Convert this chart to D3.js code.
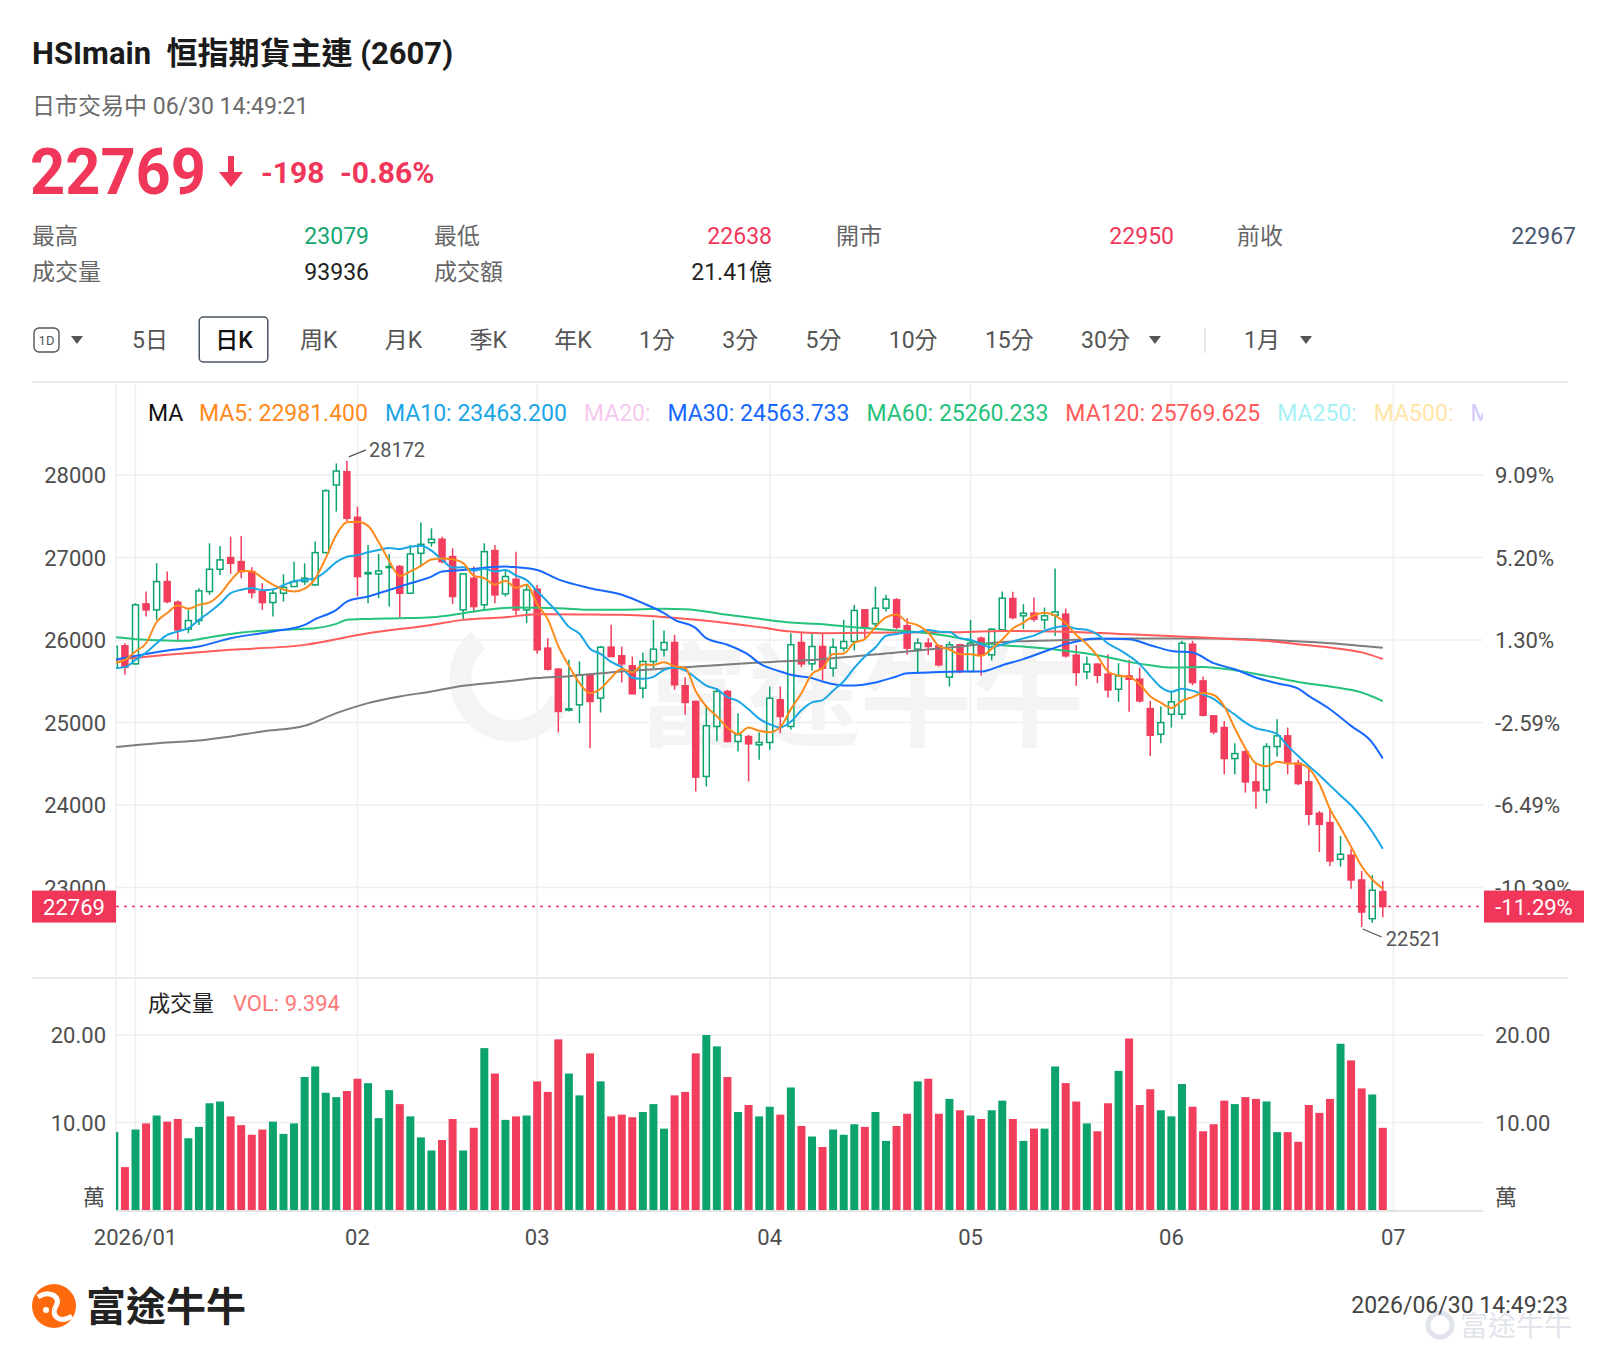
<!DOCTYPE html>
<html>
<head>
<meta charset="utf-8">
<script src="https://cdn.jsdelivr.net/npm/d3@7"></script>
<style>
body { margin: 0; background: #fff; }
svg { display: block; font-family: Roboto, "Noto Sans CJK TC", sans-serif; }
</style>
</head>
<body>
<svg id="svg"></svg>
<script>
// trading days shown (two 2025 sessions, then 2026)
var dates = ["12-30","12-31",
	"01-02","01-05","01-06","01-07","01-08","01-09","01-12","01-13","01-14","01-15","01-16","01-19","01-20","01-21","01-22","01-23","01-26","01-27","01-28","01-29","01-30",
	"02-02","02-03","02-04","02-05","02-06","02-09","02-10","02-11","02-12","02-13","02-16","02-20","02-23","02-24","02-25","02-26","02-27",
	"03-02","03-03","03-04","03-05","03-06","03-09","03-10","03-11","03-12","03-13","03-16","03-17","03-18","03-19","03-20","03-23","03-24","03-25","03-26","03-27","03-30","03-31",
	"04-01","04-02","04-08","04-09","04-10","04-13","04-14","04-15","04-16","04-17","04-20","04-21","04-22","04-23","04-24","04-27","04-28","04-29","04-30",
	"05-04","05-05","05-06","05-07","05-08","05-11","05-12","05-13","05-14","05-15","05-18","05-19","05-20","05-21","05-22","05-26","05-27","05-28","05-29",
	"06-01","06-02","06-03","06-04","06-05","06-08","06-09","06-10","06-11","06-12","06-15","06-16","06-17","06-18","06-22","06-23","06-24","06-25","06-26","06-29","06-30"];

var opens = [25659,25929,25711,26438,26365,26708,26458,26131,26236,26587,26857,26999,26950,26829,26587,26454,26567,26648,26708,26668,27059,27879,28040,
	27487,26801,26801,26882,26890,26567,27051,27180,27221,27011,26365,26749,26426,27084,26559,26736,26365,
	26615,25901,25646,25150,25214,25578,25295,25913,25808,25687,25416,25740,25881,25970,25445,25255,24346,24952,25376,24770,24830,24730,
	24758,25275,24952,25970,25711,25921,25659,25901,25982,26366,26196,26386,26487,26172,25889,25962,25929,25550,25942,
	25618,26022,25820,26123,26503,26293,26325,26244,26301,26313,25816,25614,25707,25585,25403,25565,25525,25169,24858,
	25100,25100,25949,25504,25080,24939,24563,24644,24280,24183,24708,24838,24506,24280,23900,23787,23342,23391,23091,22622,22950];

var highs = [25961,25961,26446,26587,26930,26829,26478,26365,26627,27172,27140,27253,27261,26882,26688,26607,26797,26950,26930,27193,27826,28141,28172,
	27616,27152,27043,27043,26910,27152,27423,27354,27253,27112,26809,26890,27172,27152,26849,27071,26668,
	26668,26022,25660,25760,25740,25590,25929,26184,25921,25800,25849,26245,26115,26063,25550,25265,25214,25416,25396,25113,24851,24879,
	25437,25437,26083,26083,26075,26075,26022,26245,26426,26376,26649,26548,26507,26265,26022,26022,25942,25982,25954,
	26245,26043,26144,26588,26584,26434,26515,26394,26867,26382,25937,25800,25719,25828,25719,25759,25666,25262,25193,
	25371,25990,25990,25557,25088,25019,24749,24668,24506,24749,25040,24939,24547,24433,23928,23948,23625,23463,23200,23148,23079];

var lows = [25638,25578,25701,26284,26244,26446,25981,26082,26183,26547,26789,26801,26749,26506,26365,26284,26466,26648,26668,26656,27051,27556,27435,
	26527,26446,26506,26405,26276,26567,26910,27132,26930,26438,26252,26333,26365,26446,26527,26304,26204,
	25832,25630,24880,25134,24992,24689,25121,25800,25485,25348,25295,25659,25800,25396,25093,24164,24225,24770,24760,24649,24285,24548,
	24669,24871,24911,25671,25630,25509,25558,25861,25873,26022,26164,26346,26131,25820,25598,25820,25679,25437,25598,
	25610,25566,25752,26115,26252,26131,26220,26131,26050,25787,25444,25525,25476,25302,25250,25129,25242,24595,24749,
	24939,25040,25452,25072,24858,24373,24373,24150,23956,24021,24587,24373,24239,23754,23431,23261,23253,22986,22521,22574,22638];

var closes = [25921,25671,26426,26365,26708,26466,26123,26236,26595,26857,26971,26930,26829,26575,26454,26567,26640,26708,26749,27059,27810,28048,27475,
	26769,26817,26837,26890,26567,27043,27160,27221,26950,26527,26801,26405,27071,26547,26769,26365,26607,
	25881,25646,25134,25166,25578,25255,25913,25800,25711,25348,25740,25889,25970,25457,25243,24338,24960,25376,24770,24851,24742,24758,
	25295,25073,25942,25711,25921,25659,25913,25982,26358,26144,26386,26495,26156,25901,25962,25921,25699,25942,25618,
	25962,25820,26131,26507,26272,26325,26252,26293,26341,25808,25606,25707,25573,25395,25565,25525,25262,24846,24999,
	25250,25961,25484,25088,24886,24563,24623,24280,24171,24708,24838,24522,24260,23888,23766,23322,23403,23091,22703,22967,22769];

// volume, in 萬 contracts
var volumes = [8.9,4.9,9.2,9.9,10.8,10.1,10.4,8.2,9.5,12.2,12.4,10.7,9.7,8.6,9.2,10.1,8.7,9.9,15.2,16.4,13.4,12.9,13.6,
	15.0,14.5,10.5,13.7,12.1,10.7,8.3,6.8,8.0,10.4,6.8,9.4,18.5,15.6,10.3,10.7,10.8,
	14.7,13.5,19.5,15.6,13.1,17.9,14.7,10.7,10.9,10.6,11.2,12.1,9.3,13.1,13.5,17.9,20.0,18.7,15.2,11.2,12.0,10.7,
	11.8,10.9,14.0,9.6,8.4,7.2,9.2,8.6,9.8,9.5,11.2,7.9,9.6,11.0,14.7,15.0,11.0,12.7,11.4,
	10.8,10.4,11.4,12.5,10.4,7.9,9.3,9.3,16.4,14.5,12.4,9.9,9.0,12.2,15.9,19.6,12.0,13.8,11.4,
	10.7,14.4,11.8,9.0,9.8,12.5,12.1,12.9,12.7,12.4,8.9,8.9,7.8,12.0,11.1,12.7,19.0,17.1,13.9,13.2,9.394];

// MA5 / MA10 values of the first sessions (history before the window)
var ma5Head = [25719, 25759, 25860, 25961];
var ma10Head = [25659, 25671, 25759, 25848, 25961, 26062, 26103, 26143, 26244];

// longer averages
var ma30 = [["12-30",25759],["01-07",25873],["01-12",25921],["01-15",26022],["01-21",26103],["01-26",26184],["01-27",26252],["01-29",26365],["01-30",26466],
	["02-03",26527],["02-05",26607],["02-09",26688],["02-11",26769],["02-12",26829],["02-16",26849],["02-25",26890],["02-26",26882],
	["03-02",26849],["03-04",26735],["03-09",26628],["03-12",26548],["03-16",26447],["03-18",26325],["03-19",26245],["03-23",26144],["03-24",26022],["03-26",25942],["03-30",25820],["03-31",25719],
	["04-02",25618],["04-08",25578],["04-10",25538],["04-13",25497],["04-15",25449],["04-16",25449],["04-20",25485],["04-22",25558],["04-23",25598],["04-27",25606],["04-30",25618],
	["05-05",25618],["05-06",25647],["05-07",25694],["05-11",25768],["05-13",25861],["05-15",25950],["05-20",26018],["05-26",26010],["05-28",25937],
	["06-01",25868],["06-03",25848],["06-05",25719],["06-09",25646],["06-11",25545],["06-15",25476],["06-17",25411],["06-18",25323],["06-23",25161],["06-25",24959],["06-29",24757],["06-30",24564]];

var ma60 = [["12-30",26034],["01-02",26010],["01-07",25994],["01-09",25990],["01-12",26010],["01-15",26074],["01-20",26111],["01-26",26135],["01-27",26143],["01-29",26196],["01-30",26244],
	["02-03",26256],["02-06",26264],["02-11",26276],["02-16",26325],["02-23",26365],["02-26",26393],
	["03-04",26386],["03-09",26366],["03-12",26366],["03-18",26378],["03-20",26374],["03-26",26305],["03-31",26257],
	["04-08",26212],["04-13",26192],["04-16",26156],["04-22",26115],["04-27",26083],["04-30",26022],
	["05-05",25962],["05-07",25937],["05-12",25909],["05-15",25870],["05-20",25816],["05-26",25735],["05-28",25694],
	["06-01",25666],["06-04",25674],["06-09",25634],["06-12",25565],["06-17",25492],["06-23",25436],["06-26",25363],["06-30",25260]];

var ma120 = [["12-30",25759],["01-07",25820],["01-15",25881],["01-26",25941],["02-03",26082],["02-11",26183],["02-16",26244],["02-25",26276],
	["03-02",26313],["03-06",26310],["03-12",26305],["03-23",26245],["03-31",26156],["04-08",26103],["04-13",26083],["04-22",26091],["04-30",26095],
	["05-07",26110],["05-15",26099],["05-26",26070],["06-04",26030],["06-09",26010],["06-12",25990],["06-17",25949],["06-23",25908],["06-26",25850],["06-30",25770]];

var ma250 = [["12-30",24702],["01-07",24758],["01-12",24782],["01-15",24831],["01-20",24891],["01-26",24960],["01-29",25113],
	["02-03",25235],["02-06",25315],["02-11",25376],["02-16",25445],["02-25",25497],["03-02",25538],["03-05",25562],["03-12",25618],["03-23",25679],["03-31",25727],
	["04-13",25768],["04-22",25849],["04-30",25921],["05-07",25975],["05-15",26000],["05-26",26018],["06-04",26018],["06-12",26002],["06-23",25961],["06-30",25905]];

var priceTicks = [23000, 24000, 25000, 26000, 27000, 28000];
var pctTicks = ["-10.39%", "-6.49%", "-2.59%", "1.30%", "5.20%", "9.09%"];
var volTicks = [10, 20];
var months = [["2026/01","01-02"],["02","02-02"],["03","03-02"],["04","04-01"],["05","05-04"],["06","06-01"],["07","07-02"]];

var legendNames = ["MA5","MA10","MA20","MA30","MA60","MA120","MA250","MA500","MA"];
var legendValues = ["22981.400","23463.200","","24563.733","25260.233","25769.625","","",""];

var statNames = ["最高","最低","開市","前收","成交量","成交額"];
var statValues = ["23079","22638","22950","22967","93936","21.41億"];
var tabs = ["5日","日K","周K","月K","季K","年K","1分","3分","5分","10分","15分","30分"];

var lastPrice = 22769, lastChange = "-198", lastPct = "-0.86%", lastPctAxis = "-11.29%";
var volNow = "9.394";

// ---------------------------------------------------------------
var width = 1600, height = 1358;
var svg = d3.select("#svg").attr("width", width).attr("height", height);

var upColor = "#0ca46c", downColor = "#f23d5c", priceRed = "#f0375a";
var gridColor = "#efefef", axisText = "#4d4d4d";
var L = 116, R = 1483, plotTop = 384, plotBottom = 976;

var x = d3.scaleLinear().domain([2, 120]).range([135.5, 1382.8]);
var y = d3.scaleLinear().domain([23000, 28000]).range([887.5, 475]);
var yv = d3.scaleLinear().domain([0, 20]).range([1210, 1035]);

function idxOf(d) { var i = dates.indexOf(d); return i < 0 ? dates.length : i; }
function isUp(i) { return closes[i] >= opens[i]; }

// ---------- header ----------
svg.append("text").attr("x", 32).attr("y", 64)
	.attr("font-size", 31).attr("font-weight", 700).attr("fill", "#1b1b1b")
	.style("white-space", "pre").text("HSImain  恒指期貨主連 (2607)");

svg.append("text").attr("x", 32).attr("y", 114)
	.attr("font-size", 23).attr("fill", "#6b6b6b")
	.text("日市交易中 06/30 14:49:21");

svg.append("text").attr("x", 30).attr("y", 194)
	.attr("font-size", 65).attr("font-weight", 700).attr("fill", priceRed)
	.attr("textLength", 176).attr("lengthAdjust", "spacingAndGlyphs")
	.text(lastPrice);

svg.append("path")
	.attr("d", "M228,156 L234,156 L234,172 L243,172 L231,187 L219,172 L228,172 Z")
	.attr("fill", priceRed);

svg.append("text").attr("x", 261).attr("y", 183)
	.attr("font-size", 30).attr("font-weight", 700).attr("fill", priceRed).text(lastChange);
svg.append("text").attr("x", 340).attr("y", 183)
	.attr("font-size", 30).attr("font-weight", 700).attr("fill", priceRed).text(lastPct);

var statX = [32, 434, 836, 1237, 32, 434];
var statRight = [369, 772, 1174, 1576, 369, 772];
var statY = [244, 244, 244, 244, 280, 280];
var statColor = ["#14a66f", priceRed, priceRed, "#4a5872", "#222", "#222"];
statNames.forEach(function(n, i) {
	svg.append("text").attr("x", statX[i]).attr("y", statY[i])
		.attr("font-size", 23).attr("fill", "#666").text(n);
	svg.append("text").attr("x", statRight[i]).attr("y", statY[i])
		.attr("font-size", 23).attr("text-anchor", "end").attr("fill", statColor[i]).text(statValues[i]);
});

// ---------- toolbar ----------
var tb = svg.append("g");
tb.append("rect").attr("x", 34).attr("y", 328).attr("width", 25).attr("height", 24).attr("rx", 5)
	.attr("fill", "none").attr("stroke", "#555").attr("stroke-width", 1.4);
tb.append("text").attr("x", 46.5).attr("y", 345).attr("text-anchor", "middle")
	.attr("font-size", 13).attr("fill", "#555").text("1D");
function tri(cx) {
	tb.append("path").attr("d", "M" + (cx - 6) + ",336 L" + (cx + 6) + ",336 L" + cx + ",344 Z").attr("fill", "#555");
}
tri(77);

var tx = 132;
tabs.forEach(function(t, i) {
	var el = tb.append("text").attr("x", tx).attr("y", 348).attr("font-size", 23)
		.attr("fill", t == "日K" ? "#111" : "#555").attr("font-weight", t == "日K" ? 500 : 400).text(t);
	var w = el.node().getComputedTextLength();
	if (t == "日K") {
		tb.insert("rect", "text").attr("x", tx - 16).attr("y", 317).attr("width", w + 31).attr("height", 45).attr("rx", 4)
			.attr("fill", "#fff").attr("stroke", "#4b5563").attr("stroke-width", 1.5);
	}
	if (i == tabs.length - 1) tri(tx + w + 25);
	tx += w + 47.3;
});
tb.append("line").attr("x1", 1205).attr("x2", 1205).attr("y1", 328).attr("y2", 353).attr("stroke", "#e2e2e2").attr("stroke-width", 1.5);
tb.append("text").attr("x", 1244).attr("y", 348).attr("font-size", 23).attr("fill", "#555").text("1月");
tri(1306);

// ---------- frame and grid ----------
svg.append("line").attr("x1", 32).attr("x2", 1568).attr("y1", 382).attr("y2", 382).attr("stroke", "#ebebeb").attr("stroke-width", 2);
svg.append("line").attr("x1", 32).attr("x2", 1568).attr("y1", 978).attr("y2", 978).attr("stroke", "#ebebeb").attr("stroke-width", 2);

var grid = svg.append("g");
grid.append("line").attr("x1", L).attr("x2", L).attr("y1", plotTop).attr("y2", 1211).attr("stroke", gridColor).attr("stroke-width", 1.5);
grid.selectAll(".vg").data(months).enter().append("line")
	.attr("x1", function(d) { return x(idxOf(d[1])); })
	.attr("x2", function(d) { return x(idxOf(d[1])); })
	.attr("y1", plotTop).attr("y2", 1211)
	.attr("stroke", gridColor).attr("stroke-width", 1.5);
grid.selectAll(".hg").data(priceTicks).enter().append("line")
	.attr("x1", L).attr("x2", R)
	.attr("y1", function(d) { return y(d); }).attr("y2", function(d) { return y(d); })
	.attr("stroke", gridColor).attr("stroke-width", 1.5);
grid.selectAll(".vhg").data(volTicks).enter().append("line")
	.attr("x1", L).attr("x2", R)
	.attr("y1", function(d) { return yv(d); }).attr("y2", function(d) { return yv(d); })
	.attr("stroke", gridColor).attr("stroke-width", 1.5);
svg.append("line").attr("x1", L).attr("x2", R).attr("y1", 1211).attr("y2", 1211).attr("stroke", "#e4e4e4").attr("stroke-width", 2);

// watermark
var wm = svg.append("g").attr("fill", "#f4f4f4");
wm.append("path").attr("d", "M478,640 A52,52 0 1 0 560,700")
	.attr("fill", "none").attr("stroke", "#f4f4f4").attr("stroke-width", 22);
wm.append("text").attr("x", 636).attr("y", 738).attr("font-size", 112).attr("font-weight", 700).text("富途牛牛");

// ---------- axes labels ----------
var ax = svg.append("g").attr("font-size", 22).attr("fill", axisText);
ax.selectAll(".pl").data(priceTicks).enter().append("text")
	.attr("x", 106).attr("y", function(d) { return y(d) + 8; })
	.attr("text-anchor", "end").text(function(d) { return d; });
ax.selectAll(".pr").data(priceTicks).enter().append("text")
	.attr("x", 1495).attr("y", function(d) { return y(d) + 8; })
	.text(function(d, i) { return pctTicks[i]; });
ax.selectAll(".vl").data(volTicks).enter().append("text")
	.attr("x", 106).attr("y", function(d) { return yv(d) + 8; })
	.attr("text-anchor", "end").text(function(d) { return d.toFixed(2); });
ax.selectAll(".vr").data(volTicks).enter().append("text")
	.attr("x", 1495).attr("y", function(d) { return yv(d) + 8; })
	.text(function(d) { return d.toFixed(2); });
ax.append("text").attr("x", 105).attr("y", 1205).attr("text-anchor", "end").text("萬");
ax.append("text").attr("x", 1495).attr("y", 1205).text("萬");
ax.selectAll(".xl").data(months).enter().append("text")
	.attr("x", function(d) { return x(idxOf(d[1])); }).attr("y", 1245)
	.attr("text-anchor", "middle").text(function(d) { return d[0]; });

// ---------- candles ----------
svg.append("defs").append("clipPath").attr("id", "clip")
	.append("rect").attr("x", L).attr("y", plotTop).attr("width", R - L).attr("height", plotBottom - plotTop);
svg.select("defs").append("clipPath").attr("id", "clipv")
	.append("rect").attr("x", L).attr("y", 990).attr("width", R - L).attr("height", 221);

var idx = d3.range(dates.length);
var plot = svg.append("g").attr("clip-path", "url(#clip)");

plot.selectAll(".wick").data(idx).enter().append("line")
	.attr("x1", function(i) { return x(i); }).attr("x2", function(i) { return x(i); })
	.attr("y1", function(i) { return y(highs[i]); }).attr("y2", function(i) { return y(lows[i]); })
	.attr("stroke", function(i) { return isUp(i) ? upColor : downColor; })
	.attr("stroke-width", 1.5);

plot.selectAll(".body").data(idx).enter().append("rect")
	.attr("x", function(i) { return x(i) - 3; }).attr("width", 6)
	.attr("y", function(i) { return y(Math.max(opens[i], closes[i])); })
	.attr("height", function(i) { return Math.max(1, Math.abs(y(opens[i]) - y(closes[i]))); })
	.attr("fill", function(i) { return isUp(i) ? "#fff" : downColor; })
	.attr("stroke", function(i) { return isUp(i) ? upColor : downColor; })
	.attr("stroke-width", 1.5);

// ---------- moving averages ----------
function rolling(n, head) {
	return idx.map(function(i) {
		if (i < head.length) return [i, head[i]];
		return [i, d3.mean(closes.slice(i - n + 1, i + 1))];
	});
}
function sampled(arr) { return arr.map(function(d) { return [idxOf(d[0]), d[1]]; }); }

var line = d3.line()
	.x(function(d) { return x(d[0]); })
	.y(function(d) { return y(d[1]); })
	.curve(d3.curveMonotoneX);

var maSeries = [
	[sampled(ma250), "#7d7d7d"],
	[sampled(ma120), "#ff5b5b"],
	[sampled(ma60), "#25c27c"],
	[sampled(ma30), "#1768ff"],
	[rolling(10, ma10Head), "#1ba6e6"],
	[rolling(5, ma5Head), "#ff8a1c"]
];
maSeries.forEach(function(s) {
	plot.append("path").attr("d", line(s[0]))
		.attr("fill", "none").attr("stroke", s[1]).attr("stroke-width", 2);
});

// high / low markers
var hi = d3.maxIndex(highs), lo = d3.minIndex(lows);
var note = svg.append("g").attr("font-size", 20).attr("fill", "#555");
note.append("line").attr("x1", x(hi) + 2).attr("y1", y(highs[hi]) - 4).attr("x2", x(hi) + 19).attr("y2", y(highs[hi]) - 11)
	.attr("stroke", "#555").attr("stroke-width", 1.3);
note.append("text").attr("x", x(hi) + 22).attr("y", y(highs[hi]) - 4).text(highs[hi]);
note.append("line").attr("x1", x(lo) + 1).attr("y1", y(lows[lo]) + 2).attr("x2", x(lo) + 20).attr("y2", y(lows[lo]) + 10)
	.attr("stroke", "#555").attr("stroke-width", 1.3);
note.append("text").attr("x", x(lo) + 24).attr("y", y(lows[lo]) + 19).text(lows[lo]);

// last price line and tags
var yl = y(lastPrice);
svg.append("line").attr("x1", L).attr("x2", R).attr("y1", yl).attr("y2", yl)
	.attr("stroke", priceRed).attr("stroke-width", 1.6).attr("stroke-dasharray", "3,5");
svg.append("rect").attr("x", 32).attr("y", yl - 16).attr("width", 84).attr("height", 32).attr("fill", priceRed);
svg.append("text").attr("x", 74).attr("y", yl + 8).attr("text-anchor", "middle")
	.attr("font-size", 22).attr("fill", "#fff").text(lastPrice);
svg.append("rect").attr("x", R + 1).attr("y", yl - 16).attr("width", 100).attr("height", 32).attr("fill", priceRed);
svg.append("text").attr("x", R + 51).attr("y", yl + 8).attr("text-anchor", "middle")
	.attr("font-size", 22).attr("fill", "#fff").text(lastPctAxis);

// MA legend
var lg = svg.append("g").attr("font-size", 23);
lg.append("text").attr("x", 148).attr("y", 421).attr("fill", "#111").text("MA");
var legendColors = ["#ff8a1c", "#1ba6e6", "#f6c9ee", "#1768ff", "#25c27c", "#ff5b5b", "#a7f1f6", "#ffe5a6", "#d5c8ff"];
var lx = 199;
svg.select("defs").append("clipPath").attr("id", "clipl")
	.append("rect").attr("x", 0).attr("y", 390).attr("width", R).attr("height", 50);
var lgc = lg.append("g").attr("clip-path", "url(#clipl)");
legendNames.forEach(function(n, i) {
	var t = lgc.append("text").attr("x", lx).attr("y", 421).attr("fill", legendColors[i])
		.text(n + ":" + (legendValues[i] ? " " + legendValues[i] : ""));
	lx += t.node().getComputedTextLength() + 17;
});

// ---------- volume ----------
var vol = svg.append("g").attr("clip-path", "url(#clipv)");
vol.selectAll(".vb").data(idx).enter().append("rect")
	.attr("x", function(i) { return x(i) - 4; }).attr("width", 8)
	.attr("y", function(i) { return yv(volumes[i]); })
	.attr("height", function(i) { return yv(0) - yv(volumes[i]); })
	.attr("fill", function(i) { return isUp(i) ? upColor : downColor; });

svg.append("text").attr("x", 148).attr("y", 1011).attr("font-size", 22).attr("fill", "#222").text("成交量");
svg.append("text").attr("x", 233).attr("y", 1011).attr("font-size", 22).attr("fill", "#ff7878").text("VOL: " + volNow);

// ---------- footer ----------
var ft = svg.append("g");
ft.append("circle").attr("cx", 54).attr("cy", 1306).attr("r", 22).attr("fill", "#ff6a0d");
ft.append("path").attr("d", "M38,1297 C48,1290 62,1296 56,1306 C50,1316 60,1324 72,1316")
	.attr("fill", "none").attr("stroke", "#fff").attr("stroke-width", 5);
ft.append("circle").attr("cx", 46).attr("cy", 1310).attr("r", 3).attr("fill", "#fff");
ft.append("text").attr("x", 86).attr("y", 1321).attr("font-size", 40).attr("font-weight", 700).attr("fill", "#222").text("富途牛牛");
ft.append("circle").attr("cx", 1440).attr("cy", 1325).attr("r", 12).attr("fill", "none").attr("stroke", "#e1e5eb").attr("stroke-width", 5);
ft.append("text").attr("x", 1460).attr("y", 1336).attr("font-size", 28).attr("fill", "#e1e5eb").text("富途牛牛");
ft.append("text").attr("x", 1568).attr("y", 1313).attr("text-anchor", "end").attr("font-size", 23).attr("fill", "#444").text("2026/06/30 14:49:23");
</script>
</body>
</html>
